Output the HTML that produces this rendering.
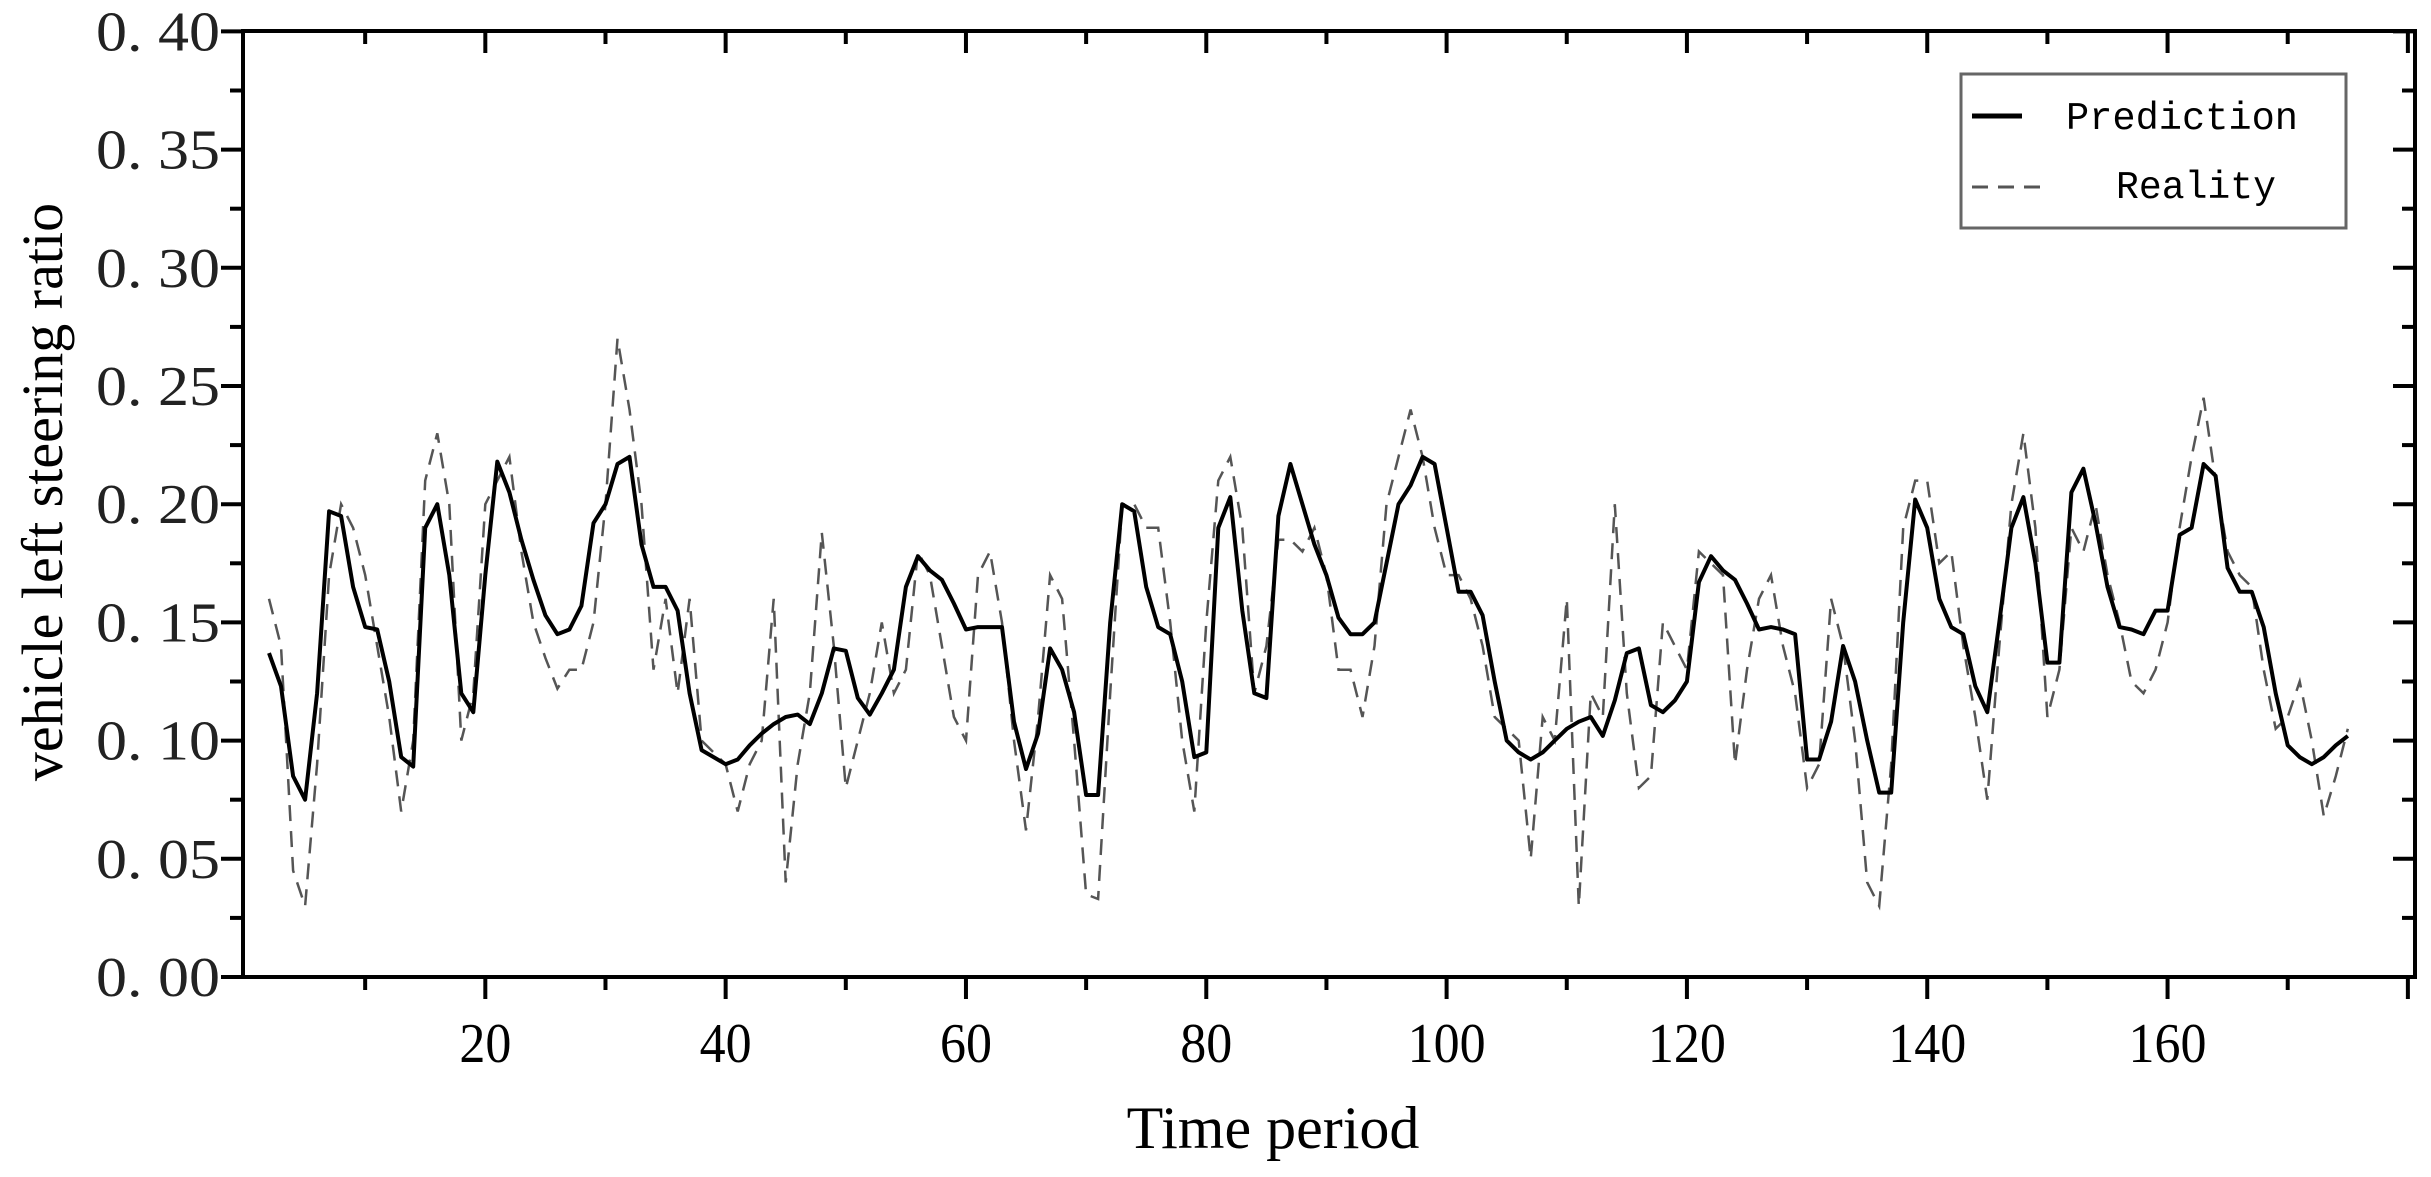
<!DOCTYPE html>
<html><head><meta charset="utf-8"><style>
html,body{margin:0;padding:0;background:#fff;}
svg{display:block;}
</style></head><body>
<svg id="s" width="2431" height="1177" xmlns="http://www.w3.org/2000/svg" font-family="Liberation Serif, serif">
<rect width="2431" height="1177" fill="#fff"/>
<g id="g"></g>
<text x="1273" y="1148" font-size="60" text-anchor="middle">Time period</text>
<text transform="translate(62,492) rotate(-90)" font-size="58" text-anchor="middle">vehicle left steering ratio</text>
<rect x="1961" y="74" width="385" height="154" fill="#fff" stroke="#666" stroke-width="3"/>
<line x1="1972" y1="116" x2="2022" y2="116" stroke="#000" stroke-width="5"/>
<line x1="1972" y1="187" x2="2040" y2="187" stroke="#555" stroke-width="3" stroke-dasharray="16,10"/>
<text x="2066" y="129" font-family="Liberation Mono, monospace" font-size="39" textLength="232" lengthAdjust="spacingAndGlyphs">Prediction</text>
<text x="2116" y="198" font-family="Liberation Mono, monospace" font-size="39" textLength="160" lengthAdjust="spacingAndGlyphs">Reality</text>
</svg>
<script>
var P=[0.137,0.123,0.085,0.075,0.12,0.197,0.195,0.165,0.148,0.147,0.125,0.093,0.089,0.19,0.2,0.17,0.12,0.112,0.17,0.218,0.205,0.185,0.168,0.153,0.145,0.147,0.157,0.192,0.2,0.217,0.22,0.183,0.165,0.165,0.155,0.12,0.096,0.093,0.09,0.092,0.098,0.103,0.107,0.11,0.111,0.107,0.12,0.139,0.138,0.118,0.111,0.12,0.13,0.165,0.178,0.172,0.168,0.158,0.147,0.148,0.148,0.148,0.108,0.088,0.103,0.139,0.13,0.112,0.077,0.077,0.15,0.2,0.197,0.165,0.148,0.145,0.125,0.093,0.095,0.19,0.203,0.155,0.12,0.118,0.195,0.217,0.2,0.183,0.17,0.152,0.145,0.145,0.15,0.175,0.2,0.208,0.22,0.217,0.19,0.163,0.163,0.153,0.125,0.1,0.095,0.092,0.095,0.1,0.105,0.108,0.11,0.102,0.117,0.137,0.139,0.115,0.112,0.117,0.125,0.167,0.178,0.172,0.168,0.158,0.147,0.148,0.147,0.145,0.092,0.092,0.108,0.14,0.125,0.1,0.078,0.078,0.15,0.202,0.19,0.16,0.148,0.145,0.123,0.112,0.15,0.19,0.203,0.175,0.133,0.133,0.205,0.215,0.192,0.165,0.148,0.147,0.145,0.155,0.155,0.187,0.19,0.217,0.212,0.173,0.163,0.163,0.148,0.12,0.098,0.093,0.09,0.093,0.098,0.102];
var R=[0.16,0.14,0.045,0.03,0.09,0.17,0.2,0.19,0.17,0.14,0.11,0.07,0.1,0.21,0.23,0.2,0.1,0.12,0.2,0.21,0.22,0.18,0.15,0.135,0.122,0.13,0.13,0.15,0.2,0.27,0.24,0.2,0.13,0.16,0.12,0.16,0.1,0.095,0.09,0.07,0.09,0.1,0.16,0.04,0.09,0.12,0.188,0.14,0.08,0.1,0.12,0.15,0.12,0.13,0.18,0.17,0.14,0.11,0.1,0.17,0.18,0.15,0.1,0.062,0.11,0.17,0.16,0.1,0.035,0.033,0.12,0.2,0.2,0.19,0.19,0.15,0.1,0.07,0.15,0.21,0.22,0.19,0.12,0.14,0.185,0.185,0.18,0.19,0.17,0.13,0.13,0.11,0.14,0.2,0.22,0.24,0.22,0.19,0.17,0.17,0.16,0.14,0.11,0.105,0.1,0.05,0.11,0.1,0.16,0.03,0.12,0.11,0.2,0.12,0.08,0.085,0.15,0.14,0.13,0.18,0.175,0.17,0.09,0.13,0.16,0.17,0.14,0.12,0.08,0.09,0.16,0.14,0.1,0.04,0.03,0.09,0.19,0.21];
R=R.slice(0,138).concat([0.21,0.175,0.18,0.14,0.11,0.075,0.14,0.2,0.23,0.19,0.11,0.13,0.19,0.18,0.2,0.17,0.15,0.125,0.12,0.13,0.15,0.19,0.22,0.245,0.21,0.18,0.17,0.165,0.13,0.105,0.11,0.125,0.1,0.068,0.085,0.105]);
var L=243,T=31,Rr=2415,B=977;
function X(i){return 245+i*12.016;}
function Y(v){return B-v/0.05*118.2;}
var h='';
function pl(a,st){var p=a.map(function(v,k){return X(k+2).toFixed(1)+','+Y(v).toFixed(1)}).join(' ');h+='<polyline points="'+p+'" fill="none" '+st+'/>';}
pl(R,'stroke="#555" stroke-width="2.5" stroke-dasharray="16,10"');
pl(P,'stroke="#000" stroke-width="4" stroke-linejoin="round"');
h+='<rect x="'+L+'" y="'+T+'" width="'+(Rr-L)+'" height="'+(B-T)+'" fill="none" stroke="#000" stroke-width="4"/>';
for(var i=10;i<=180;i+=10){var x=X(i),mj=i%20==0,l=mj?22:13;
h+='<line x1="'+x+'" y1="'+B+'" x2="'+x+'" y2="'+(B+l)+'" stroke="#000" stroke-width="4"/>';
h+='<line x1="'+x+'" y1="'+T+'" x2="'+x+'" y2="'+(T+l)+'" stroke="#000" stroke-width="4"/>';
if(mj&&i<=160)h+='<text x="'+x+'" y="1062" font-size="56" text-anchor="middle" textLength="'+(i>=100?78:52)+'" lengthAdjust="spacingAndGlyphs">'+i+'</text>';}
for(var j=0;j<=16;j++){var v=j*0.025,y=Y(v),mj=j%2==0,l=mj?22:13;
h+='<line x1="'+(L-l)+'" y1="'+y+'" x2="'+L+'" y2="'+y+'" stroke="#000" stroke-width="4"/>';
h+='<line x1="'+(Rr-l)+'" y1="'+y+'" x2="'+Rr+'" y2="'+y+'" stroke="#000" stroke-width="4"/>';
if(mj)h+='<text x="96" y="'+(y+19)+'" font-size="56" fill="#222" textLength="124" lengthAdjust="spacingAndGlyphs">'+v.toFixed(2).replace('.','. ')+'</text>';}
document.getElementById('g').innerHTML=h;
</script>
</body></html>
